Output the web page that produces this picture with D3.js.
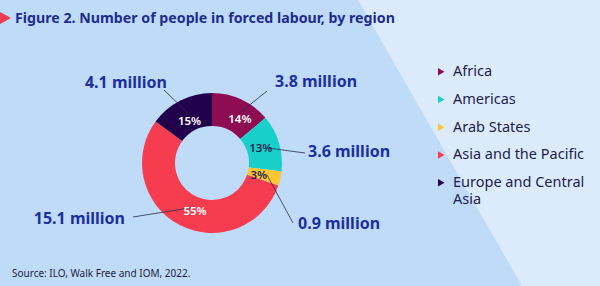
<!DOCTYPE html>
<html>
<head>
<meta charset="utf-8">
<script src="https://cdn.jsdelivr.net/npm/d3@7"></script>
<style>
  body { margin: 0; background: #bfdbf8; }
  svg { display: block; font-family: "Noto Sans", sans-serif; }
</style>
</head>
<body>
<script>
// data
var regions = ["Africa", "Americas", "Arab States", "Asia and the Pacific", "Europe and Central Asia"];
var millions = [3.8, 3.6, 0.9, 15.1, 4.1];
var shares = ["14%", "13%", "3%", "55%", "15%"];
var valueLabels = ["3.8 million", "3.6 million", "0.9 million", "15.1 million", "4.1 million"];
var colors = ["#8e0c52", "#19cfca", "#fbc631", "#f63c4f", "#21004c"];
var shareTextColors = ["#fff", "#1b1f4f", "#1b1f4f", "#fff", "#fff"];

var W = 600, H = 286;
var cx = 212, cy = 163, rOut = 70, rIn = 37;

var svg = d3.select("body").append("svg")
  .attr("width", W).attr("height", H);

// background panels
svg.append("rect").attr("width", W).attr("height", H).attr("fill", "#bfdbf8");
svg.append("path")
  .attr("d", "M358,0L600,0L600,286L522,286Z")
  .attr("fill", "#dcebfb");

// title
svg.append("path").attr("d", "M0,12L11,18L0,24Z").attr("fill", "#ee3a50");
svg.append("text")
  .attr("x", 15).attr("y", 23)
  .attr("font-size", 14.2).attr("font-weight", 700)
  .attr("fill", "#1e2c8e")
  .text("Figure 2. Number of people in forced labour, by region");

// donut
var pie = d3.pie().sort(null).value(d => d);
var arcs = pie(millions);
var arc = d3.arc().innerRadius(rIn).outerRadius(rOut);
var labelArc = d3.arc().innerRadius(52).outerRadius(52);

var g = svg.append("g").attr("transform", "translate(" + cx + "," + cy + ")");
g.selectAll("path.slice")
  .data(arcs)
  .enter()
  .append("path")
  .attr("class", "slice")
  .attr("d", arc)
  .attr("fill", (d, i) => colors[i]);

// nudges so the share labels sit where the original has them
var nudge = [[6, 3], [-1, 0], [-4, 0], [7, 2], [1, 4]];

var sharePos = arcs.map((d, i) => {
  var c = labelArc.centroid(d);
  return [c[0] + nudge[i][0], c[1] + nudge[i][1]];
});

// callouts: [label x, label y, anchor, line end x, line end y] relative to centre
var callout = [
  [63, -76, "start", 55, -72],
  [96, -6, "start", 93, -10],
  [86, 66, "start", 81, 60],
  [-87, 61, "end", -79, 54],
  [-45, -75, "end", -48, -73]
];

g.selectAll("line.leader")
  .data(arcs)
  .enter()
  .append("line")
  .attr("class", "leader")
  .attr("x1", (d, i) => sharePos[i][0] + (i == 1 || i == 2 ? 8 : 0))
  .attr("y1", (d, i) => sharePos[i][1] + (i == 0 || i == 4 ? -6 : i == 3 ? -4 : 0))
  .attr("x2", (d, i) => callout[i][3])
  .attr("y2", (d, i) => callout[i][4])
  .attr("stroke", "#2a2f4a")
  .attr("stroke-width", 0.8);

g.selectAll("text.share")
  .data(arcs)
  .enter()
  .append("text")
  .attr("class", "share")
  .attr("x", (d, i) => sharePos[i][0])
  .attr("y", (d, i) => sharePos[i][1])
  .attr("dy", "0.35em")
  .attr("text-anchor", "middle")
  .attr("font-size", 11.5).attr("font-weight", 600)
  .attr("fill", (d, i) => shareTextColors[i])
  .text((d, i) => shares[i]);

g.selectAll("text.value")
  .data(arcs)
  .enter()
  .append("text")
  .attr("class", "value")
  .attr("x", (d, i) => callout[i][0])
  .attr("y", (d, i) => callout[i][1])
  .attr("text-anchor", (d, i) => callout[i][2])
  .attr("font-size", 16).attr("font-weight", 700)
  .attr("fill", "#1c2f9e")
  .text((d, i) => valueLabels[i]);

// legend
var legY = d3.scalePoint().domain(regions).range([76, 187]);
var leg = svg.append("g").selectAll("g")
  .data(regions)
  .enter()
  .append("g")
  .attr("transform", d => "translate(438," + legY(d) + ")");

leg.append("path")
  .attr("d", "M0,-8L6.5,-4.25L0,-0.5Z")
  .attr("fill", (d, i) => colors[i]);

leg.each(function(d) {
  var lines = d == "Europe and Central Asia" ? ["Europe and Central", "Asia"] : [d];
  lines.forEach((w, k) => {
    d3.select(this).append("text")
      .attr("x", 15).attr("y", k * 17)
      .attr("font-size", 14.5)
      .attr("fill", "#1d1e4e")
      .text(w);
  });
});

// source
svg.append("text")
  .attr("x", 12).attr("y", 277)
  .attr("font-size", 10)
  .attr("fill", "#1c1f3a")
  .text("Source: ILO, Walk Free and IOM, 2022.");
</script>
</body>
</html>
